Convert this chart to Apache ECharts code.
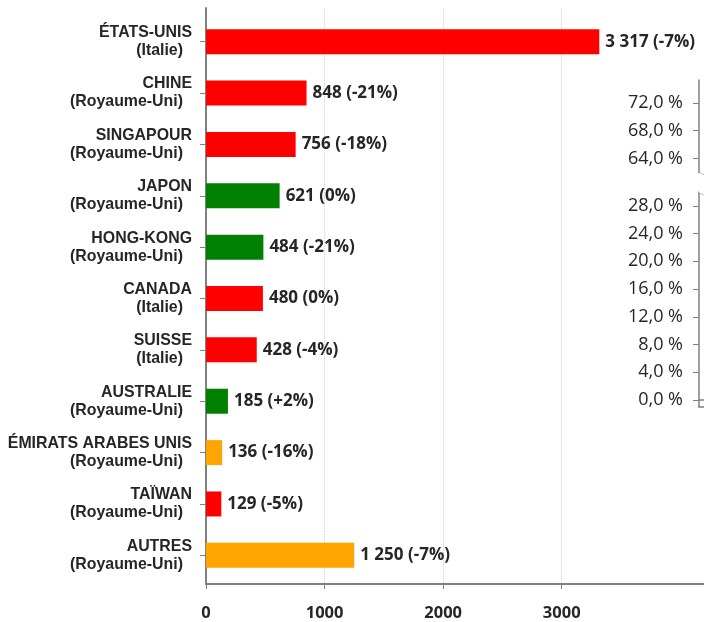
<!DOCTYPE html>
<html><head><meta charset="utf-8">
<script src="https://cdn.jsdelivr.net/npm/echarts@6/dist/echarts.min.js"></script>
<style>html,body{margin:0;padding:0;background:#fff}#c{width:704px;height:622px}</style>
</head><body><div id="c"></div>
<script>
const categories = ['ÉTATS-UNIS','CHINE','SINGAPOUR','JAPON','HONG-KONG','CANADA','SUISSE','AUSTRALIE','ÉMIRATS ARABES UNIS','TAÏWAN','AUTRES'];
const partners = ['(Italie)','(Royaume-Uni)','(Royaume-Uni)','(Royaume-Uni)','(Royaume-Uni)','(Italie)','(Italie)','(Royaume-Uni)','(Royaume-Uni)','(Royaume-Uni)','(Royaume-Uni)'];
const values = [3317, 848, 756, 621, 484, 480, 428, 185, 136, 129, 1250];
const changes = [-7, -21, -18, 0, -21, 0, -4, 2, -16, -5, -7];
const status = ['red','red','red','green','green','red','red','green','orange','red','orange'];
const xTicks = [0, 1000, 2000, 3000];
const pctTicks = [0, 4, 8, 12, 16, 20, 24, 28, 64, 68, 72];

const palette = {red:'#FF0000', green:'#008000', orange:'#FFA500'};
const AX = '#808080';
const TXT = '#262626';
const fmtNum = v => String(v).replace(/\B(?=(\d{3})+(?!\d))/g, ' ');
const fmtChg = c => (c > 0 ? '+' : '') + c + '%';
const X_MAX = 4200;

const chart = echarts.init(document.getElementById('c'), null, {renderer: 'canvas'});
chart.setOption({
  animation: false,
  grid: [
    {left: 206, top: 16, height: 565, width: 500, containLabel: false},
    {left: 206, top: 8, height: 582, width: 500, containLabel: false},
    {left: 699, top: 80, height: 327, width: 300, containLabel: false}
  ],
  xAxis: [
    {gridIndex: 0, type: 'value', min: 0, max: X_MAX, show: false},
    {gridIndex: 1, type: 'value', min: 0, max: X_MAX,
      axisLine: {show: true, lineStyle: {color: AX, width: 2}},
      axisTick: {show: true, length: 5, lineStyle: {color: AX, width: 1}, customValues: xTicks},
      axisLabel: {show: true, customValues: xTicks, margin: 21, color: TXT,
        fontFamily: 'Open Sans', fontWeight: 'bold', fontSize: 16.5,
        formatter: v => String(v)},
      splitLine: {show: true, lineStyle: {color: '#d0d0d0', type: 'dotted', width: 1}}
    },
    {gridIndex: 2, type: 'value', min: 0, max: 1, position: 'top',
      axisLine: {show: true, lineStyle: {color: AX, width: 1.5}},
      axisTick: {show: false}, axisLabel: {show: false}, splitLine: {show: false}},
    {gridIndex: 2, type: 'value', min: 0, max: 1, position: 'bottom',
      axisLine: {show: true, lineStyle: {color: AX, width: 1.5}},
      axisTick: {show: false}, axisLabel: {show: false}, splitLine: {show: false}}
  ],
  yAxis: [
    {gridIndex: 0, type: 'category', inverse: true, data: categories,
      axisLine: {show: false},
      axisTick: {show: true, alignWithLabel: true, length: 6, lineStyle: {color: AX, width: 1}},
      axisLabel: {
        margin: 14,
        formatter: (v, i) => '{a|' + categories[i] + '}\n{b|' + partners[i] + '}',
        rich: {
          a: {fontFamily: 'Liberation Sans', fontWeight: 'bold', fontSize: 15.9, lineHeight: 18, color: TXT, align: 'right'},
          b: {fontFamily: 'Liberation Sans', fontWeight: 'bold', fontSize: 15.9, lineHeight: 18, color: TXT, align: 'right', padding: [0, 9, 0, 0]}
        }
      },
      splitLine: {show: false}
    },
    {gridIndex: 1, type: 'value', min: 0, max: 1,
      axisLine: {show: true, lineStyle: {color: AX, width: 2}},
      axisTick: {show: false}, axisLabel: {show: false}, splitLine: {show: false}},
    {gridIndex: 2, type: 'value', min: -1.0, max: 75.3,
      breaks: [{start: 30, end: 62, gap: '6%'}],
      breakArea: {show: true, expandOnClick: false, zigzagAmplitude: 3, zigzagMinSpan: 6, zigzagMaxSpan: 6, zigzagZ: 100,
        itemStyle: {color: '#fff', borderColor: AX, borderWidth: 1, opacity: 1, borderType: 'solid'}},
      axisLine: {show: true, lineStyle: {color: AX, width: 1.5}},
      axisTick: {show: true, length: 6, customValues: pctTicks, lineStyle: {color: AX, width: 1}},
      axisLabel: {show: true, customValues: pctTicks, margin: 16, color: TXT,
        fontFamily: 'Open Sans', fontSize: 18,
        formatter: v => v.toFixed(1).replace('.', ',') + ' %'},
      splitLine: {show: false}
    }
  ],
  series: [{
    type: 'bar', xAxisIndex: 0, yAxisIndex: 0, barWidth: 25,
    data: values.map((v, i) => ({value: v, itemStyle: {color: palette[status[i]]}})),
    label: {show: true, position: 'right', distance: 6, color: TXT,
      fontFamily: 'Open Sans', fontWeight: 'bold', fontSize: 17,
      formatter: p => fmtNum(values[p.dataIndex]) + ' (' + fmtChg(changes[p.dataIndex]) + ')'}
  }]
});
</script></body></html>
